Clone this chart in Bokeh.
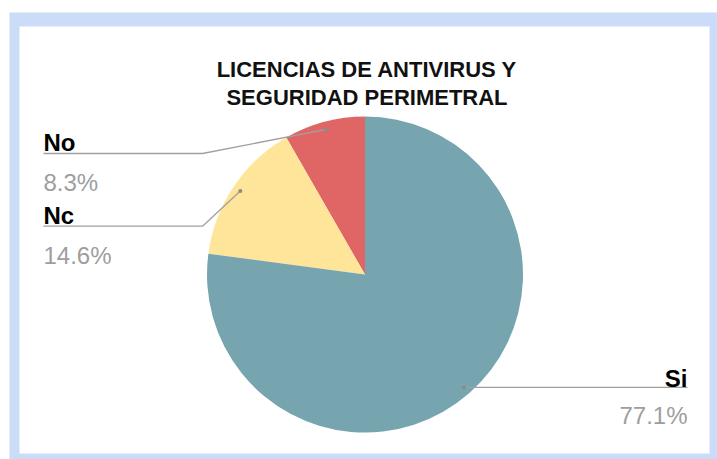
import math
from bokeh.plotting import figure
from bokeh.models import Range1d
from bokeh.core.properties import value
from bokeh.embed import file_html
from bokeh.resources import INLINE

# ---- data ----
title_lines = ["LICENCIAS DE ANTIVIRUS Y", "SEGURIDAD PERIMETRAL"]
categories = ["Si", "Nc", "No"]
values = [77.1, 14.6, 8.3]
colors = ["#76a5af", "#ffe599", "#e06666"]

# ---- layout (pixel-like data units, pie centre at 0,0) ----
R = 158
FONT = value("Liberation Sans")
LINE_COLOR = "#a0a0a0"
PCT_COLOR = "#9e9e9e"
FRAME_BLUE = "#cbdcf9"

p = figure(width=717, height=459, output_backend="svg", toolbar_location=None,
           x_range=Range1d(-364.5, 352.5), y_range=Range1d(-185, 274),
           x_axis_type=None, y_axis_type=None,
           min_border=0, min_border_left=0, min_border_right=0,
           min_border_top=0, min_border_bottom=0)
p.grid.visible = False
p.outline_line_color = None
p.background_fill_color = "white"
p.border_fill_color = "white"

# decorative card frame
p.quad(left=-355.5, right=352.5, top=262, bottom=-185, fill_color=FRAME_BLUE, line_color=None)
p.quad(left=-345.5, right=344.5, top=248, bottom=-179, fill_color="white", line_color=None)

# wedges: counter-clockwise from 12 o'clock in order No, Nc, Si
total = sum(values)
order = list(reversed(range(len(categories))))
starts, ends, cols, mids = [], [], [], {}
a = math.pi / 2
for i in order:
    b = a + values[i] / total * 2 * math.pi
    starts.append(a)
    ends.append(b)
    cols.append(colors[i])
    mids[categories[i]] = (a + b) / 2
    a = b

p.wedge(x=0, y=0, radius=R, start_angle=starts, end_angle=ends,
        fill_color=cols, line_color=None)

# title
p.text(x=[2, 2], y=[205, 177], text=title_lines, text_font=FONT,
       text_font_style="bold", text_font_size="22px", text_color="#111111",
       text_align="center", text_baseline="alphabetic")

# label layout
left_x, elbow_x, right_x = -321.5, -162.5, 322.5
left_line_y = {"No": 121, "Nc": 48.3}

xs, ys, dx, dy = [], [], [], []
left_names = dict(x=[], y=[], t=[])
left_pcts = dict(x=[], y=[], t=[])
right_names = dict(x=[], y=[], t=[])
right_pcts = dict(x=[], y=[], t=[])
for cat, v in zip(categories, values):
    m = mids[cat]
    px, py = 0.95 * R * math.cos(m), 0.95 * R * math.sin(m)
    dx.append(px)
    dy.append(py)
    pct = f"{v:.1f}%"
    if cat in left_line_y:
        ly = left_line_y[cat]
        xs.append([left_x, elbow_x, px])
        ys.append([ly, ly, py])
        left_names["x"].append(left_x); left_names["y"].append(ly + 11); left_names["t"].append(cat)
        left_pcts["x"].append(left_x); left_pcts["y"].append(ly - 29); left_pcts["t"].append(pct)
    else:
        ly = py
        xs.append([px, right_x])
        ys.append([ly, ly])
        right_names["x"].append(right_x); right_names["y"].append(ly + 9); right_names["t"].append(cat)
        right_pcts["x"].append(right_x); right_pcts["y"].append(ly - 28); right_pcts["t"].append(pct)

p.multi_line(xs=xs, ys=ys, line_color=LINE_COLOR, line_width=1.3)
p.scatter(x=dx, y=dy, size=4, fill_color="#8a8a8a", line_color=None)

for d, align in ((left_names, "left"), (right_names, "right")):
    p.text(x=d["x"], y=d["y"], text=d["t"], text_font=FONT, text_font_style="bold",
           text_font_size="24px", text_color="#000000", text_align=align,
           text_baseline="alphabetic")
for d, align in ((left_pcts, "left"), (right_pcts, "right")):
    p.text(x=d["x"], y=d["y"], text=d["t"], text_font=FONT,
           text_font_size="24px", text_color=PCT_COLOR, text_align=align,
           text_baseline="alphabetic")

open("out.html", "w").write(file_html(p, INLINE))
